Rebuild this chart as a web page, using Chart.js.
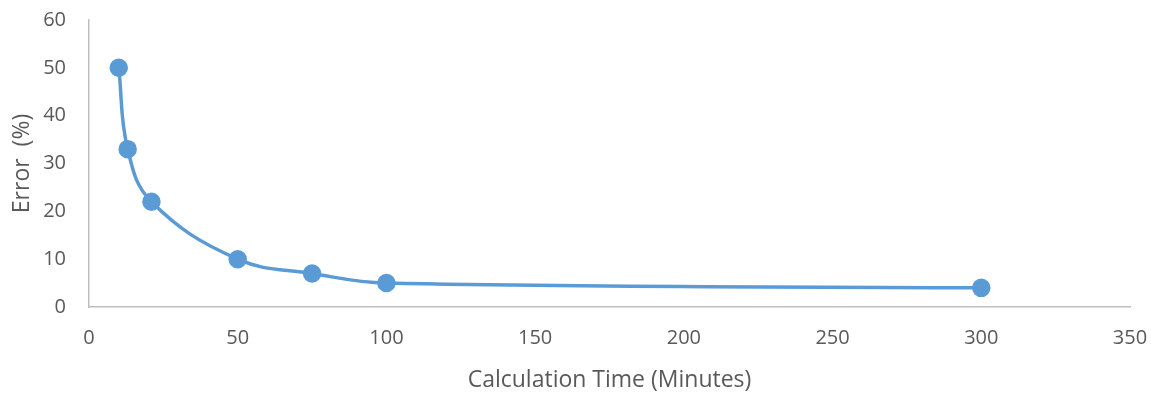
<!DOCTYPE html>
<html>
<head>
<meta charset="utf-8">
<script src="https://cdn.jsdelivr.net/npm/chart.js@4"></script>
<style>
    html, body { margin: 0; padding: 0; background: #fff; }
    #wrap { width: 1158px; height: 394px; }
</style>
</head>
<body>
<div id="wrap"><canvas id="chart"></canvas></div>
<script>
const calcTimes = [10, 13, 21, 50, 75, 100, 300];
const errorPct = [50, 33, 22, 10, 7, 5, 4];
const xTicks = [0, 50, 100, 150, 200, 250, 300, 350];
const yTicks = [0, 10, 20, 30, 40, 50, 60];

const blue = '#5b9bd5';
const grey = '#595959';
const axisLine = '#bfbfbf';

document.addEventListener('DOMContentLoaded', () => {
    const ctx = document.getElementById('chart').getContext('2d');
    new Chart(ctx, {
        type: 'scatter',
        data: {
            datasets: [{
                label: 'Error',
                data: calcTimes.map((t, i) => ({ x: t, y: errorPct[i] })),
                showLine: true,
                borderColor: blue,
                backgroundColor: blue,
                borderWidth: 3.5,
                pointRadius: 7.5,
                pointHoverRadius: 7.5,
                tension: 0.4,
            }],
        },
        options: {
            responsive: true,
            maintainAspectRatio: false,
            animation: false,
            layout: { autoPadding: false, padding: { top: 20, right: 28, bottom: 0, left: 0 } },
            plugins: {
                legend: { display: false },
                tooltip: { enabled: false },
            },
            scales: {
                x: {
                    type: 'linear',
                    min: 0,
                    max: 350,
                    afterBuildTicks: (axis) => { axis.ticks = xTicks.map(v => ({ value: v })); },
                    grid: { display: false },
                    border: { display: true, color: axisLine, width: 1.5 },
                    ticks: { color: grey, font: { family: 'Open Sans', size: 20 }, padding: 11 },
                    title: {
                        display: true,
                        text: 'Calculation Time (Minutes)',
                        color: grey,
                        font: { family: 'Open Sans', size: 23 },
                        padding: { top: 3, bottom: 0 },
                    },
                    afterFit: (axis) => {
                        axis.height = 87;
                        axis.paddingLeft = 0;
                        axis.paddingRight = 0;
                    },
                },
                y: {
                    min: 0,
                    max: 60,
                    afterBuildTicks: (axis) => { axis.ticks = yTicks.map(v => ({ value: v })); },
                    grid: { display: false },
                    border: { display: true, color: axisLine, width: 1.5 },
                    ticks: { color: grey, font: { family: 'Open Sans', size: 20 }, padding: 15 },
                    title: {
                        display: true,
                        text: 'Error  (%)',
                        color: grey,
                        font: { family: 'Open Sans', size: 23 },
                        padding: { top: 9, bottom: 0 },
                    },
                    afterFit: (axis) => {
                        axis.width = 89;
                        axis.paddingTop = 0;
                        axis.paddingBottom = 0;
                    },
                },
            },
        },
    });
});
</script>
</body>
</html>
